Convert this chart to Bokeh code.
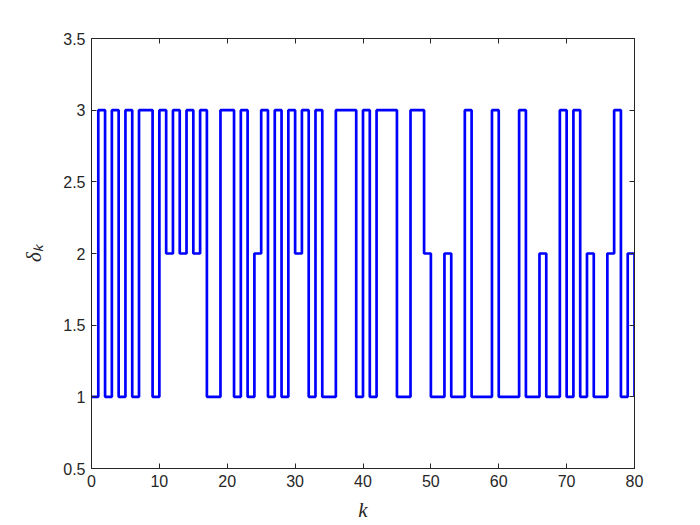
from bokeh.plotting import figure
from bokeh.models import LinearAxis, FixedTicker, Range1d
from bokeh.embed import file_html
from bokeh.resources import INLINE

k = list(range(0, 81))
delta = [1, 3, 1, 3, 1, 3, 1, 3, 3, 1,
         3, 2, 3, 2, 3, 2, 3, 1, 1, 3,
         3, 1, 3, 1, 2, 3, 1, 3, 1, 3,
         2, 3, 1, 3, 1, 1, 3, 3, 3, 1,
         3, 1, 3, 3, 3, 1, 1, 3, 3, 2,
         1, 1, 2, 1, 1, 3, 1, 1, 1, 3,
         1, 1, 1, 3, 1, 1, 2, 1, 1, 3,
         1, 3, 1, 2, 1, 1, 2, 3, 1, 2,
         1]
x_ticks = [0, 10, 20, 30, 40, 50, 60, 70, 80]
y_ticks = [0.5, 1, 1.5, 2, 2.5, 3, 3.5]
y_tick_labels = ["0.5", "1", "1.5", "2", "2.5", "3", "3.5"]

AX = "#262626"

p = figure(width=692, height=525, output_backend="svg", toolbar_location=None,
           x_range=Range1d(0, 80), y_range=Range1d(0.5, 3.5),
           min_border_left=91, min_border_right=58, min_border_top=38, min_border_bottom=57)
p.background_fill_color = "white"
p.border_fill_color = "white"
p.outline_line_color = AX
p.outline_line_width = 1
p.xgrid.visible = False
p.ygrid.visible = False

p.step(k, delta, mode="after", line_color="#0000ff", line_width=2.7)

overrides = {t: s for t, s in zip(y_ticks, y_tick_labels)}

def style(ax, labels=True):
    ax.axis_line_color = AX
    ax.major_tick_line_color = AX
    ax.major_tick_in = 5
    ax.major_tick_out = 0
    ax.minor_tick_line_color = None
    ax.major_label_text_font = "Liberation Sans"
    ax.major_label_text_font_size = "16px"
    ax.major_label_text_color = AX if labels else None
    ax.major_label_standoff = 6

xa = p.xaxis[0]
xa.ticker = FixedTicker(ticks=x_ticks)
style(xa)
xa.axis_label = "k"
xa.axis_label_text_font = "Liberation Serif"
xa.axis_label_text_font_style = "italic"
xa.axis_label_text_font_size = "21px"
xa.axis_label_text_color = AX
xa.axis_label_standoff = 8

ya = p.yaxis[0]
ya.ticker = FixedTicker(ticks=y_ticks)
ya.major_label_overrides = overrides
style(ya)
ya.axis_label = "δₖ"
ya.axis_label_text_font = "Liberation Serif"
ya.axis_label_text_font_style = "italic"
ya.axis_label_text_font_size = "21px"
ya.axis_label_text_color = AX
ya.axis_label_standoff = 14

ra = LinearAxis(ticker=FixedTicker(ticks=y_ticks))
style(ra, labels=False)
ra.major_label_text_font_size = "0px"
p.add_layout(ra, "right")
ta = LinearAxis(ticker=FixedTicker(ticks=x_ticks))
style(ta, labels=False)
ta.major_label_text_font_size = "0px"
p.add_layout(ta, "above")

open("out.html", "w").write(file_html(p, INLINE))
